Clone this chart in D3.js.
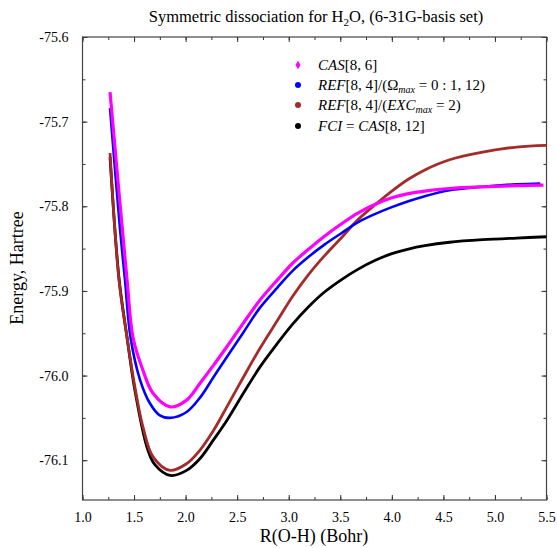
<!DOCTYPE html>
<html>
  <head>
    <meta charset="utf-8">
    <title></title>
    <script type="text/javascript" src="https://d3js.org/d3.v7.min.js"></script>
    <style media="screen">
      body { margin: 0; background: #fff; }
      text { font-family: "Liberation Serif", "DejaVu Serif", serif; fill: #000; }
    </style>
  </head>
  <body>

    <script type="text/javascript">

      var w = 557;
      var h = 548;

      // R(O-H) values (Bohr) and energies (Hartree) per curve
      var rCas = [1.267, 1.432, 1.49, 1.587, 1.684, 1.85, 2.01, 2.14, 2.27, 2.40, 2.56, 2.72, 2.89, 3.04, 3.18, 3.35, 3.52, 3.67, 3.84, 4.0, 4.16, 4.32, 4.56, 4.88, 5.21, 5.47];
      var eCas = [-75.665, -75.887, -75.955, -75.994, -76.021, -76.037, -76.029, -76.009, -75.988, -75.966, -75.938, -75.911, -75.887, -75.867, -75.852, -75.835, -75.820, -75.808, -75.7975, -75.790, -75.785, -75.782, -75.779, -75.777, -75.7757, -75.775];

      var rOmega = [1.267, 1.364, 1.412, 1.466, 1.558, 1.655, 1.75, 1.85, 2.01, 2.14, 2.27, 2.40, 2.56, 2.72, 2.89, 3.04, 3.19, 3.35, 3.52, 3.67, 3.84, 4.0, 4.16, 4.32, 4.56, 4.88, 5.21, 5.44];
      var eOmega = [-75.684, -75.827, -75.887, -75.955, -76.005, -76.033, -76.047, -76.050, -76.043, -76.026, -76.002, -75.978, -75.949, -75.920, -75.896, -75.876, -75.860, -75.845, -75.831, -75.819, -75.809, -75.801, -75.794, -75.788, -75.781, -75.777, -75.774, -75.773];

      var rExc = [1.267, 1.354, 1.432, 1.509, 1.587, 1.684, 1.85, 2.01, 2.14, 2.27, 2.40, 2.56, 2.72, 2.89, 3.04, 3.19, 3.35, 3.52, 3.67, 3.84, 4.0, 4.16, 4.32, 4.56, 4.88, 5.21, 5.5];
      var eExc = [-75.737, -75.887, -75.955, -76.014, -76.061, -76.096, -76.112, -76.104, -76.088, -76.065, -76.037, -76.002, -75.968, -75.935, -75.906, -75.881, -75.858, -75.836, -75.816, -75.798, -75.782, -75.768, -75.757, -75.745, -75.736, -75.730, -75.728];

      var rFci = [1.267, 1.354, 1.432, 1.509, 1.626, 1.70, 1.85, 2.01, 2.14, 2.27, 2.40, 2.56, 2.72, 2.89, 3.04, 3.19, 3.35, 3.52, 3.67, 3.84, 4.0, 4.16, 4.32, 4.56, 4.88, 5.21, 5.5];
      var eFci = [-75.742, -75.885, -75.955, -76.018, -76.085, -76.105, -76.118, -76.112, -76.098, -76.076, -76.053, -76.021, -75.990, -75.962, -75.939, -75.919, -75.901, -75.886, -75.8745, -75.8638, -75.856, -75.8505, -75.8465, -75.8425, -75.8395, -75.8375, -75.836];

      var xTicks = [1.0, 1.5, 2.0, 2.5, 3.0, 3.5, 4.0, 4.5, 5.0, 5.5];
      var yTicks = [-75.6, -75.7, -75.8, -75.9, -76.0, -76.1];

      var series = [
        { r: rCas, e: eCas, color: '#ff00ff', width: 3.2 },
        { r: rOmega, e: eOmega, color: '#0000ff', width: 2.6 },
        { r: rExc, e: eExc, color: '#a52a2a', width: 2.8 },
        { r: rFci, e: eFci, color: '#000000', width: 2.8 }
      ];

      var padL = 82.5, padR = 546.5, padT = 37, padB = 500;

      var xscale = d3.scaleLinear().domain([1.0, 5.5]).range([padL, padR]);
      var yscale = d3.scaleLinear().domain([-76.147, -75.6]).range([padB, padT]);

      var svg = d3.select('body').append('svg')
        .attr('width', w)
        .attr('height', h);

      // ticks, pointing inward on all four sides
      var fmt = function(d){ return d.toFixed(1); };
      var xMinor = d3.range(1.0, 5.51, 0.25);
      var yMinor = d3.range(-76.1, -75.59, 0.05);

      function noDomain(g) { g.select('.domain').remove(); }
      function serif(g) {
        g.attr('font-family', null);
        g.selectAll('text')
          .style('font-family', '"Liberation Serif", serif')
          .style('font-size', '14px');
      }

      svg.append('g')
        .attr('transform', 'translate(0,' + padB + ')')
        .call(d3.axisBottom(xscale).tickValues(xMinor).tickSize(-3).tickFormat(''))
        .call(noDomain);
      svg.append('g')
        .attr('transform', 'translate(0,' + padB + ')')
        .call(d3.axisBottom(xscale).tickValues(xTicks).tickSize(-5).tickPadding(12).tickFormat(fmt))
        .call(noDomain)
        .call(serif);
      svg.append('g')
        .attr('transform', 'translate(0,' + padT + ')')
        .call(d3.axisTop(xscale).tickValues(xMinor).tickSize(-3).tickFormat(''))
        .call(noDomain);
      svg.append('g')
        .attr('transform', 'translate(0,' + padT + ')')
        .call(d3.axisTop(xscale).tickValues(xTicks).tickSize(-5).tickFormat(''))
        .call(noDomain);

      svg.append('g')
        .attr('transform', 'translate(' + padL + ',0)')
        .call(d3.axisLeft(yscale).tickValues(yMinor).tickSize(-3).tickFormat(''))
        .call(noDomain);
      svg.append('g')
        .attr('transform', 'translate(' + padL + ',0)')
        .call(d3.axisLeft(yscale).tickValues(yTicks).tickSize(-5).tickPadding(14).tickFormat(fmt))
        .call(noDomain)
        .call(serif);
      svg.append('g')
        .attr('transform', 'translate(' + padR + ',0)')
        .call(d3.axisRight(yscale).tickValues(yMinor).tickSize(-3).tickFormat(''))
        .call(noDomain);
      svg.append('g')
        .attr('transform', 'translate(' + padR + ',0)')
        .call(d3.axisRight(yscale).tickValues(yTicks).tickSize(-5).tickFormat(''))
        .call(noDomain);

      svg.selectAll('.tick line').attr('stroke', '#333');

      svg.append('rect')
        .attr('x', padL).attr('y', padT)
        .attr('width', padR - padL).attr('height', padB - padT)
        .attr('fill', 'none').attr('stroke', '#444').attr('stroke-width', 1.2);

      // curves
      var line = d3.line()
        .x(function(d){ return xscale(d[0]); })
        .y(function(d){ return yscale(d[1]); })
        .curve(d3.curveCatmullRom.alpha(0.5));

      series.slice().reverse().forEach(function(s){
        var pts = s.r.map(function(r, i){ return [r, s.e[i]]; });
        svg.append('path')
          .datum(pts)
          .attr('d', line)
          .attr('fill', 'none')
          .attr('stroke', s.color)
          .attr('stroke-width', s.width)
          .attr('stroke-linejoin', 'round');
      });

      // legend
      var legendY = [65, 85, 105, 126];
      series.forEach(function(s, i){
        if (i == 0) {
          svg.append('path')
            .attr('d', d3.symbol().type(d3.symbolDiamond).size(22)())
            .attr('transform', 'translate(298,' + legendY[i] + ')')
            .attr('fill', s.color);
        } else {
          svg.append('circle')
            .attr('cx', 298).attr('cy', legendY[i]).attr('r', 3)
            .attr('fill', s.color);
        }
        var t = svg.append('text')
          .attr('x', 318).attr('y', legendY[i] + 5)
          .attr('font-size', 15);
        if (i == 0) {
          t.append('tspan').attr('font-style', 'italic').text('CAS');
          t.append('tspan').text('[8, 6]');
        } else if (i == 1) {
          t.append('tspan').attr('font-style', 'italic').text('REF');
          t.append('tspan').text('[8, 4]/(\u03A9');
          t.append('tspan').attr('font-style', 'italic').attr('font-size', 10).attr('dy', 3).text('max');
          t.append('tspan').attr('dy', -3).text(' = 0 : 1, 12)');
        } else if (i == 2) {
          t.append('tspan').attr('font-style', 'italic').text('REF');
          t.append('tspan').text('[8, 4]/(');
          t.append('tspan').attr('font-style', 'italic').text('EXC');
          t.append('tspan').attr('font-style', 'italic').attr('font-size', 10).attr('dy', 3).text('max');
          t.append('tspan').attr('dy', -3).text(' = 2)');
        } else {
          t.append('tspan').attr('font-style', 'italic').text('FCI');
          t.append('tspan').text(' = ');
          t.append('tspan').attr('font-style', 'italic').text('CAS');
          t.append('tspan').text('[8, 12]');
        }
      });

      // title and axis labels
      var title = svg.append('text')
        .attr('x', 316).attr('y', 22)
        .attr('text-anchor', 'middle')
        .attr('font-size', 16.5);
      title.append('tspan').text('Symmetric dissociation for H');
      title.append('tspan').attr('font-size', 11).attr('dy', 4).text('2');
      title.append('tspan').attr('dy', -4).text('O, (6-31G-basis set)');

      svg.append('text')
        .attr('x', 314).attr('y', 542)
        .attr('text-anchor', 'middle')
        .attr('font-size', 18)
        .text('R(O-H) (Bohr)');

      svg.append('text')
        .attr('transform', 'translate(23,' + 268 + ')rotate(-90)')
        .attr('text-anchor', 'middle')
        .attr('font-size', 18)
        .text('Energy, Hartree');

    </script>

  </body>
</html>
